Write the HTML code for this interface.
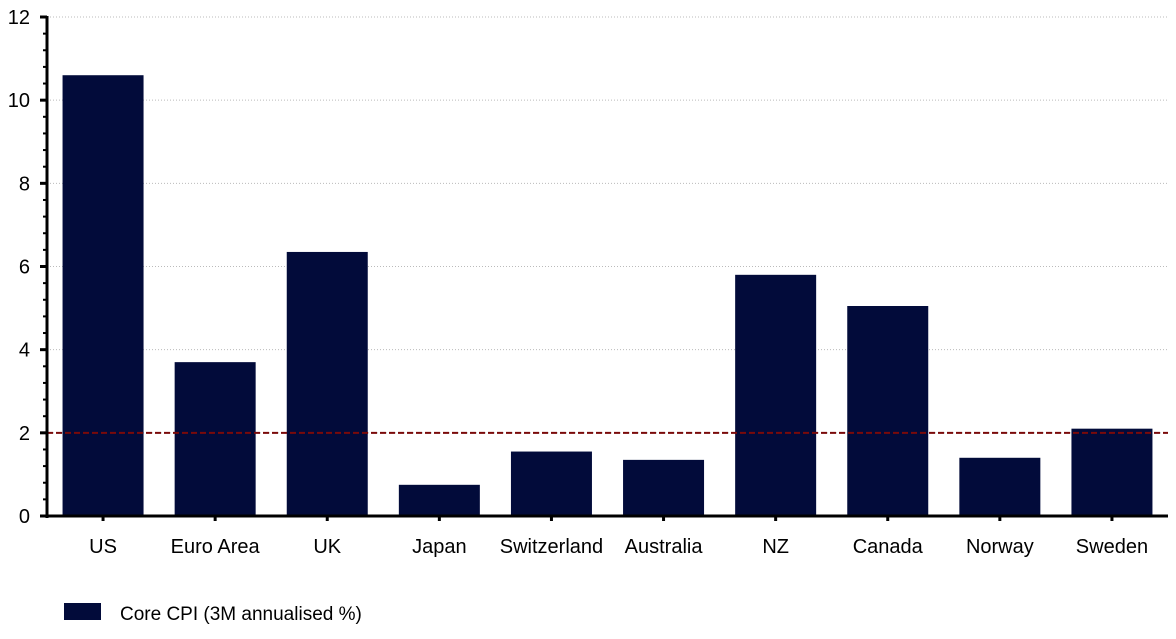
<!DOCTYPE html>
<html><head><meta charset="utf-8"><style>
body{margin:0;background:#fff;}
text{font-family:"Liberation Sans",sans-serif;fill:#000;}
</style></head><body>
<svg width="1176" height="634">
<g id="grid"></g>
<g id="bars"></g>
<g id="axes"></g>
<g id="legend">
<rect x="64" y="603" width="37" height="17" fill="#020b3a"/>
<text x="120" y="620" font-size="19">Core CPI (3M annualised %)</text>
</g>
</svg>
<script>
const categories=["US","Euro Area","UK","Japan","Switzerland","Australia","NZ","Canada","Norway","Sweden"];
const values=[10.6,3.7,6.35,0.75,1.55,1.35,5.8,5.05,1.4,2.1];
const yTicks=[0,2,4,6,8,10,12];
const target=[2];
const NS="http://www.w3.org/2000/svg";
const x0=47,x1=1168,yBase=516,yTop=17,yMax=12;
const y=v=>yBase-(v/yMax)*(yBase-yTop);
const band=(x1-x0)/categories.length;
const xc=i=>x0+band*(i+0.5);
function mk(p,tag,a){const e=document.createElementNS(NS,tag);for(const k in a)e.setAttribute(k,a[k]);p.appendChild(e);return e;}
const grid=document.getElementById('grid'),bars=document.getElementById('bars'),axes=document.getElementById('axes');
yTicks.forEach(t=>{if(t>0){const l=mk(grid,'line',{x1:x0,x2:x1,y1:y(t),y2:y(t),stroke:'#bbb','stroke-dasharray':'1,2'});

}
const tx=mk(axes,'text',{x:30,y:y(t)+7,'font-size':20,'text-anchor':'end'});tx.textContent=t;


mk(axes,'line',{x1:x0-7,x2:x0,y1:y(t),y2:y(t),stroke:'#000','stroke-width':3});});
for(let v=0;v<=yMax;v+=0.4){mk(axes,'line',{x1:x0-4,x2:x0,y1:y(v),y2:y(v),stroke:'#000','stroke-width':2});}
categories.forEach((c,i)=>{const w=81;
const r=mk(bars,'rect',{x:xc(i)-w/2,y:y(values[i]),width:w,height:yBase-y(values[i]),fill:'#020b3a'});


const t=mk(axes,'text',{x:xc(i),y:553,'font-size':20,'text-anchor':'middle'});t.textContent=c;


mk(axes,'line',{x1:xc(i),x2:xc(i),y1:yBase,y2:yBase+5,stroke:'#000','stroke-width':3});});
target.forEach(v=>{const l=mk(axes,'line',{x1:x0,x2:x1,y1:y(v),y2:y(v),stroke:'#7a0a0a','stroke-width':2,'stroke-dasharray':'6,3'});

});
mk(axes,'line',{x1:x0,x2:x0,y1:yTop-1,y2:yBase+2,stroke:'#000','stroke-width':3});
mk(axes,'line',{x1:x0-5,x2:x1,y1:yBase,y2:yBase,stroke:'#000','stroke-width':3});
</script>
</body></html>
